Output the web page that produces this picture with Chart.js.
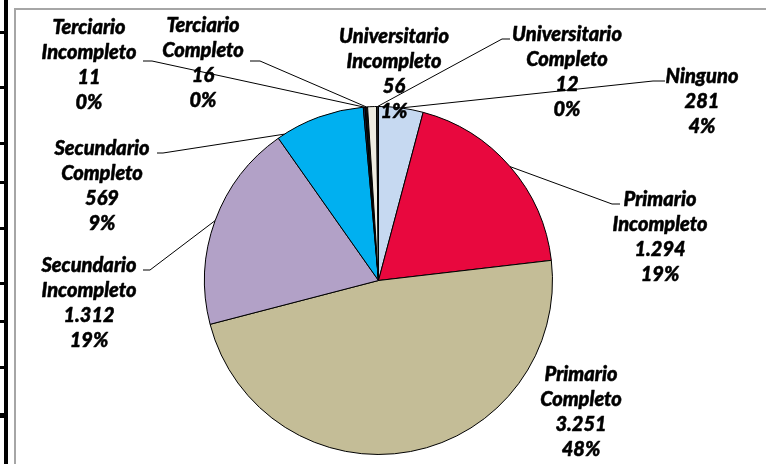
<!DOCTYPE html>
<html><head><meta charset="utf-8">
<script src="https://cdn.jsdelivr.net/npm/chart.js@4"></script>
<style>
html,body{margin:0;padding:0;background:#fff;}
#wrap{position:relative;width:766px;height:464px;overflow:hidden;background:#fff;}
#frame{position:absolute;left:14px;top:8px;width:800px;height:500px;border-left:2px solid #a6a6a6;border-top:2px solid #a6a6a6;box-sizing:border-box;}
#rule{position:absolute;left:4px;top:0;width:4px;height:464px;background:#000;}
.tick{position:absolute;left:0;width:8px;height:3px;background:#000;}
canvas{position:absolute;left:0;top:0;}
</style></head>
<body><div id="wrap"><div id="rule"></div><div id="frame"></div><canvas id="c" width="766" height="464"></canvas></div>
<script>
// ---- data ----
const categories = ["Ninguno","Primario Incompleto","Primario Completo","Secundario Incompleto","Secundario Completo","Terciario Incompleto","Terciario Completo","Universitario Incompleto","Universitario Completo"];
const values = [281,1294,3251,1312,569,11,16,56,12];
const sliceColors = ["#C6D9F1","#E8083E","#C4BD97","#B2A1C7","#00B0F0","#1F3864","#0D0D0D","#EEECE1","#262626"];

// ---- label layout (annotation placement only) ----
const labelCenter = [[702,77],[660,200],[581,375],[89,266],[102,149],[89,28],[203,26],[394,37],[567,35]];
// [elbowX, elbowY, tailX, anchorFraction] or null
const leaders = [[653,81,665,0.5],[612,204,620,0.5],null,[150,270,143,0.5],[163,153,157,0.08],[152,61,143,0.5],[260,61,250,0.5],null,[502,39,510,0.5]];

// ruler ticks (background decoration)
const tickY = [31,86,142,181,227,282,320,366,413];
tickY.forEach((y,i)=>{const d=document.createElement('div');d.className='tick';d.style.top=y+'px';if(i===tickY.length-1)d.style.height='5px';document.getElementById('wrap').appendChild(d);});

function fmtNum(n){return String(n).replace(/\B(?=(\d{3})+(?!\d))/g,'.');}
function pcts(vals){
  const tot=vals.reduce((a,b)=>a+b,0);
  const raw=vals.map(v=>v/tot*100);
  const fl=raw.map(Math.floor);
  let rem=100-fl.reduce((a,b)=>a+b,0);
  const order=raw.map((r,i)=>[r-Math.floor(r),i]).sort((a,b)=>b[0]-a[0]);
  for(let k=0;k<rem;k++) fl[order[k][1]]++;
  return fl;
}
const pct = pcts(values);

function splitName(s){const i=s.indexOf(' ');return i<0?[s]:[s.slice(0,i),s.slice(i+1)];}

const labelPlugin = {
  id:'labels',
  afterDatasetsDraw(chart){
    const ctx=chart.ctx;
    const meta=chart.getDatasetMeta(0);
    ctx.save();
    ctx.strokeStyle='#000';ctx.lineWidth=1;
    meta.data.forEach((arc,i)=>{
      const L=leaders[i]; if(!L) return;
      const p=arc.getProps(['x','y','startAngle','endAngle','outerRadius'],true);
      const a=p.startAngle+L[3]*(p.endAngle-p.startAngle);
      const ax=p.x+p.outerRadius*Math.cos(a), ay=p.y+p.outerRadius*Math.sin(a);
      ctx.beginPath();ctx.moveTo(ax,ay);ctx.lineTo(L[0],L[1]);ctx.lineTo(L[2],L[1]);ctx.stroke();
    });
    ctx.fillStyle='#000';
    ctx.font='italic 900 20px Lato';
    ctx.textAlign='center';ctx.textBaseline='middle';
    ctx.lineWidth=0.5;ctx.lineJoin='round';
    categories.forEach((c,i)=>{
      const lines=[...splitName(c),fmtNum(values[i]),pct[i]+'%'];
      const [cx,cy]=labelCenter[i];
      lines.forEach((t,k)=>{ctx.fillText(t,cx,cy+k*25);ctx.strokeText(t,cx,cy+k*25);});
    });
    ctx.restore();
  }
};

new Chart(document.getElementById('c'),{
  type:'pie',
  data:{labels:categories,datasets:[{data:values,backgroundColor:sliceColors,borderColor:'#000',borderWidth:1}]},
  options:{
    responsive:false,animation:false,events:[],
    layout:{padding:{left:204,right:213,top:106,bottom:9}},
    plugins:{legend:{display:false},tooltip:{enabled:false}}
  },
  plugins:[labelPlugin]
});
</script>
</body></html>
